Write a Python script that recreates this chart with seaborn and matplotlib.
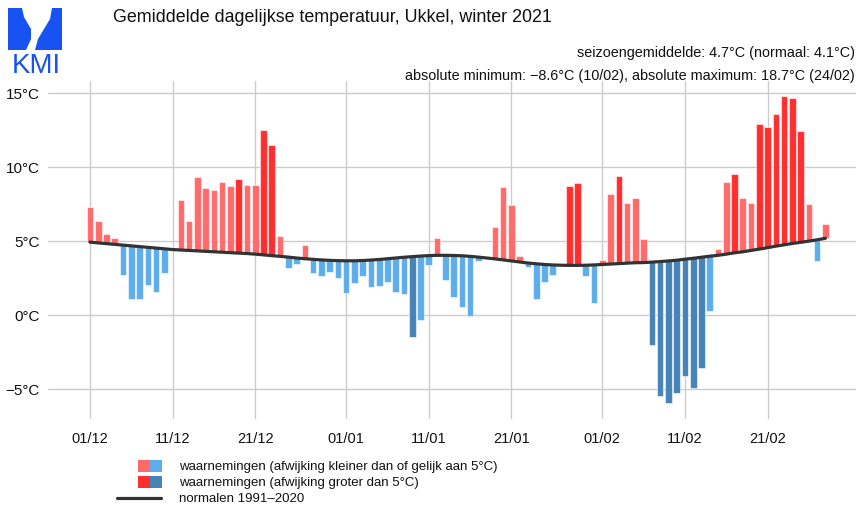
import numpy as np
import pandas as pd
import matplotlib
matplotlib.use('Agg')
import matplotlib.pyplot as plt
from matplotlib.patches import Rectangle, Polygon
from matplotlib.lines import Line2D
import seaborn as sns

# daily values, winter 2020-2021 (Ukkel)
dates = pd.date_range('2020-12-01', '2021-02-28', freq='D')

observed = [
    # december
    7.3, 6.35, 5.5, 5.2, 2.7, 1.1, 1.1, 2.05, 1.55, 2.85,
    4.5, 7.75, 6.35, 9.3, 8.6, 8.45, 9.0, 8.7, 9.2, 8.8,
    8.8, 12.5, 11.5, 5.36, 3.15, 3.42, 4.73, 2.86, 2.66, 2.93, 2.48,
    # january
    1.49, 2.16, 2.61, 1.87, 1.98, 2.25, 1.58, 1.4, -1.49, -0.32,
    3.38, 5.2, 2.39, 1.24, 0.54, -0.09, 3.63, 3.95, 5.92, 8.63,
    7.43, 3.96, 3.22, 1.08, 2.2, 2.7, 3.4, 8.74, 8.9, 2.61, 0.81,
    # february
    3.7, 8.18, 9.37, 7.59, 7.9, 5.16, -2.0, -5.5, -5.97, -5.27,
    -4.12, -4.91, -3.58, 0.29, 4.44, 9.01, 9.5, 7.88, 7.59, 12.9,
    12.68, 13.58, 14.8, 14.66, 12.45, 7.52, 3.67, 6.17,
]

normal = [
    4.92, 4.87, 4.82, 4.77, 4.72, 4.67, 4.62, 4.57, 4.52, 4.47,
    4.42, 4.39, 4.36, 4.33, 4.30, 4.27, 4.24, 4.21, 4.18, 4.15,
    4.11, 4.06, 4.01, 3.96, 3.91, 3.85, 3.80, 3.76, 3.72, 3.69, 3.67,
    3.66, 3.66, 3.68, 3.71, 3.75, 3.80, 3.85, 3.90, 3.94, 3.98,
    4.01, 4.03, 4.03, 4.02, 4.00, 3.96, 3.91, 3.85, 3.79, 3.72,
    3.65, 3.58, 3.51, 3.46, 3.41, 3.38, 3.36, 3.35, 3.35, 3.36, 3.38,
    3.41, 3.44, 3.47, 3.50, 3.53, 3.54, 3.57, 3.61, 3.65, 3.70,
    3.77, 3.83, 3.90, 3.97, 4.03, 4.11, 4.20, 4.27, 4.36, 4.45,
    4.55, 4.65, 4.74, 4.83, 4.91, 4.99, 5.08, 5.18,
]

tick_dates = ['2020-12-01', '2020-12-11', '2020-12-21', '2021-01-01', '2021-01-11',
              '2021-01-21', '2021-02-01', '2021-02-11', '2021-02-21']
tick_labels = ['01/12', '11/12', '21/12', '01/01', '11/01', '21/01', '01/02', '11/02', '21/02']
y_ticks = [-5, 0, 5, 10, 15]
y_labels = ['\u22125°C', '0°C', '5°C', '10°C', '15°C']

LIGHT_RED, RED = '#ff6b6b', '#ff2f2f'
LIGHT_BLUE, BLUE = '#5dadec', '#4683b6'

df = pd.DataFrame({'date': dates, 'obs': observed, 'normal': normal})
df['dev'] = df['obs'] - df['normal']


def bar_colour(d):
    if d >= 0:
        return RED if d > 5 else LIGHT_RED
    return BLUE if d < -5 else LIGHT_BLUE


df['colour'] = df['dev'].apply(bar_colour)

sns.set_style('white')
plt.rcParams['font.family'] = ['Liberation Sans', 'DejaVu Sans']

W, H = 859, 510
fig = plt.figure(figsize=(W / 100, H / 100), dpi=100)


def px(x, y):
    return (x / W, 1 - y / H)


ax = fig.add_axes([48 / W, 1 - 420 / H, (856 - 48) / W, (420 - 82) / H])

ax.bar(df['date'], df['dev'], bottom=df['normal'], width=0.8,
       color=df['colour'], edgecolor=(1, 1, 1, 0.55), linewidth=0.8, zorder=2)
sns.lineplot(data=df, x='date', y='normal', color='#333333', linewidth=2.3,
             ax=ax, zorder=3)

ax.set_xlim(dates[0] - pd.Timedelta(days=5.08), dates[0] + pd.Timedelta(days=92.7))
ax.set_ylim(-7.03, 15.81)
ax.set_xticks(pd.to_datetime(tick_dates))
ax.set_xticklabels(tick_labels)
ax.set_yticks(y_ticks)
ax.set_yticklabels(y_labels)
ax.set_xlabel('')
ax.set_ylabel('')
ax.grid(True, color='#cccccc', linewidth=1)
ax.set_axisbelow(True)
for s in ax.spines.values():
    s.set_visible(False)
ax.tick_params(axis='both', length=4, width=0.8, color='#666666',
               labelsize=10.5, labelcolor='#111111', pad=2)
ax.tick_params(axis='y', labelsize=11)
ax.tick_params(axis='x', pad=5)

# titles
fig.text(*px(113, 18), 'Gemiddelde dagelijkse temperatuur, Ukkel, winter 2021',
         fontsize=12.9, ha='left', va='center', color='#111111')
fig.text(*px(855, 53), 'seizoengemiddelde: 4.7°C (normaal: 4.1°C)',
         fontsize=10.4, ha='right', va='center', color='#111111')
fig.text(*px(855, 76),
         'absolute minimum: \u22128.6°C (10/02), absolute maximum: 18.7°C (24/02)',
         fontsize=10.4, ha='right', va='center', color='#111111')

# logo
logo_blue = '#1852f2'
left_shape = [px(8, 9), px(22, 9), px(24, 18), px(31, 30), px(31, 40),
              px(26, 51), px(8, 51)]
right_shape = [px(52, 9), px(62, 9), px(62, 51), px(35, 51), px(38, 40),
               px(44, 30), px(50, 20)]
for shape in (left_shape, right_shape):
    fig.add_artist(Polygon(shape, closed=True, facecolor=logo_blue,
                           edgecolor='none', transform=fig.transFigure))
fig.text(*px(36, 66), 'KMI', fontsize=20, color=logo_blue,
         ha='center', va='center')

# legend
def box(x0, y0, x1, y1, colour):
    fig.add_artist(Rectangle(px(x0, y1), (x1 - x0) / W, (y1 - y0) / H,
                             facecolor=colour, edgecolor='none',
                             transform=fig.transFigure))


box(138, 461, 150, 473, LIGHT_RED)
box(150, 461, 162, 473, LIGHT_BLUE)
box(138, 477, 150, 489, RED)
box(150, 477, 162, 489, BLUE)
fig.add_artist(Line2D([117 / W, 161 / W], [1 - 498.5 / H] * 2, color='#333333',
                      linewidth=2.3, transform=fig.transFigure))
legend_texts = ['waarnemingen (afwijking kleiner dan of gelijk aan 5°C)',
                'waarnemingen (afwijking groter dan 5°C)',
                'normalen 1991\u20132020']
for txt, yy in zip(legend_texts, [467, 483, 499]):
    fig.text(*px(179, yy), txt, fontsize=9.5, ha='left', va='center',
             color='#111111')

fig.savefig('out.png', dpi=100)
